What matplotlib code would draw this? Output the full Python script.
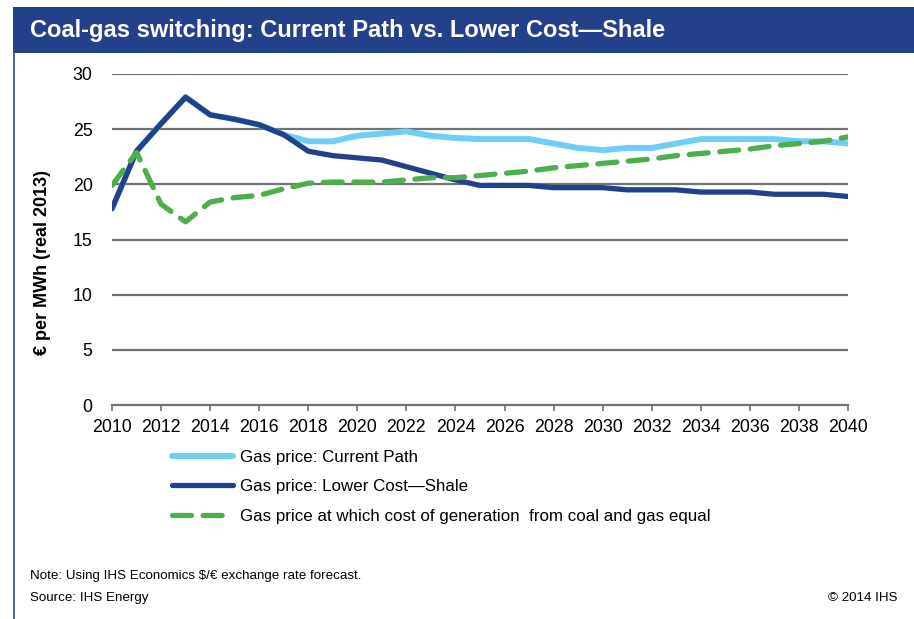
import matplotlib
matplotlib.use("Agg")
import matplotlib.pyplot as plt
from matplotlib.patches import Rectangle
from matplotlib.lines import Line2D
import numpy as np

plt.rcParams['font.family'] = ['Liberation Sans', 'DejaVu Sans']

years = np.arange(2010, 2041)

current_path = [17.8, 23.0, 25.5, 27.9, 26.3, 25.9, 25.4, 24.5, 23.9, 23.9,
                24.4, 24.6, 24.8, 24.4, 24.2, 24.1, 24.1, 24.1, 23.7, 23.3,
                23.1, 23.3, 23.3, 23.7, 24.1, 24.1, 24.1, 24.1, 23.9, 23.9,
                23.7]
lower_cost_shale = [17.8, 23.0, 25.5, 27.9, 26.3, 25.9, 25.4, 24.5, 23.0, 22.6,
                    22.4, 22.2, 21.6, 21.0, 20.4, 19.9, 19.9, 19.9, 19.7, 19.7,
                    19.7, 19.5, 19.5, 19.5, 19.3, 19.3, 19.3, 19.1, 19.1, 19.1,
                    18.9]
switch_price = [19.9, 22.9, 18.2, 16.6, 18.4, 18.8, 19.0, 19.6, 20.1, 20.2,
                20.2, 20.2, 20.4, 20.6, 20.6, 20.8, 21.0, 21.2, 21.5, 21.7,
                21.9, 22.1, 22.3, 22.6, 22.8, 23.0, 23.2, 23.5, 23.7, 23.9,
                24.3]

series_labels = ["Gas price: Current Path",
                 "Gas price: Lower Cost\u2014Shale",
                 "Gas price at which cost of generation  from coal and gas equal"]

navy = '#22418a'
light = '#6dcff6'
green = '#4cae4c'
grid = '#6e7378'

W, H = 914, 619
fig = plt.figure(figsize=(W / 100, H / 100), dpi=100)

# header band and left rule
fig.patches.append(Rectangle((13 / W, 1 - 53 / H), 1 - 13 / W, 46 / H,
                             transform=fig.transFigure, facecolor=navy,
                             edgecolor='none', zorder=0))
fig.lines.append(Line2D([14 / W, 14 / W], [0, 1 - 53 / H], transform=fig.transFigure,
                        color='#3a5ba8', lw=1.3))
fig.text(30 / W, 1 - 31 / H, "Coal-gas switching: Current Path vs. Lower Cost\u2014Shale",
         color='white', fontsize=17, fontweight='bold', va='center', ha='left')

ax = fig.add_axes([112 / W, 1 - 405 / H, (848 - 112) / W, (405 - 74) / H])

ax.plot(years, current_path, color=light, lw=4.3, solid_capstyle='round',
        label=series_labels[0], zorder=3)
ax.plot(years, lower_cost_shale, color=navy, lw=3.8, solid_capstyle='round',
        label=series_labels[1], zorder=4)
ax.plot(years, switch_price, color=green, lw=3.8, dashes=(3.6, 2.2),
        dash_capstyle='round', label=series_labels[2], zorder=5)

ax.set_xlim(2010, 2040)
ax.set_ylim(0, 30)
ax.set_xticks(np.arange(2010, 2041, 2))
ax.set_yticks(np.arange(0, 31, 5))
for y in np.arange(5, 31, 5):
    ax.axhline(y, color=grid, lw=1.6, zorder=1, xmin=-0.003)
for s in ['top', 'right', 'left']:
    ax.spines[s].set_visible(False)
ax.spines['bottom'].set_color(grid)
ax.spines['bottom'].set_linewidth(1.6)
ax.tick_params(axis='x', direction='out', length=4, width=1.2, color=grid,
               labelsize=12.8, pad=6)
ax.tick_params(axis='y', length=0, labelsize=12.8, pad=14)
ax.set_ylabel("\u20ac per MWh (real 2013)", fontsize=13, fontweight='bold')
ax.yaxis.set_label_coords(-0.083, 0.43)

ax.legend(loc='upper left', bbox_to_anchor=(172 / W, 1 - 450 / H),
          bbox_transform=fig.transFigure, frameon=False, fontsize=12.2,
          handlelength=3.6, handletextpad=0.4, labelspacing=0.85,
          borderaxespad=0, borderpad=0)

fig.text(30 / W, 1 - 576 / H, "Note: Using IHS Economics $/\u20ac exchange rate forecast.",
         fontsize=9.6, va='center')
fig.text(30 / W, 1 - 598 / H, "Source: IHS Energy", fontsize=9.6, va='center')
fig.text(898 / W, 1 - 598 / H, "\u00a9 2014 IHS", fontsize=9.6, va='center', ha='right')

fig.savefig("out.png", dpi=100)
plt.close(fig)
